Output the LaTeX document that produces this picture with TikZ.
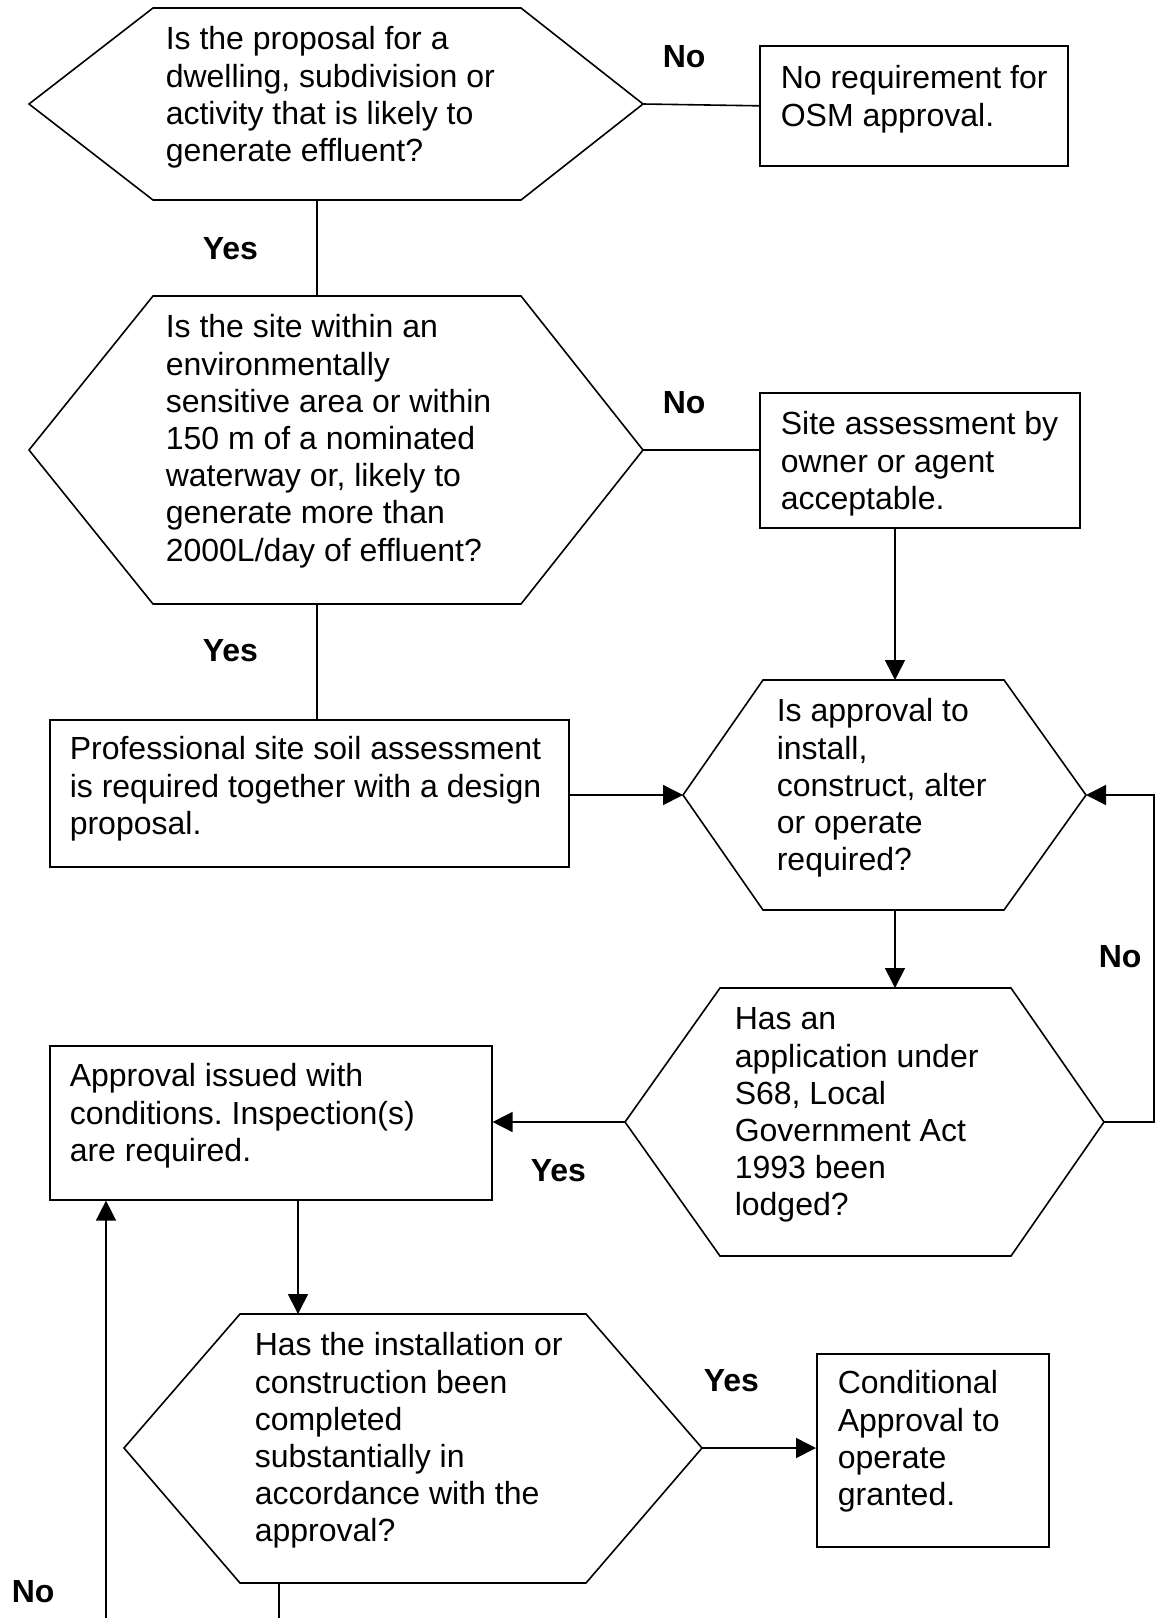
\documentclass[tikz,border=0pt]{standalone}
\usepackage{fontspec}
\setmainfont{Liberation Sans}
\usetikzlibrary{arrows.meta}

\begin{document}
\frenchspacing
\begin{tikzpicture}[x=1pt,y=-1pt,line width=1.6pt,
    every node/.style={font=\fontsize{32}{37.2}\selectfont},
    box/.style={draw, inner sep=0pt, anchor=north west},
    txt/.style={anchor=north west, inner sep=0pt, align=left},
    lbl/.style={anchor=base west, inner sep=0pt, font=\fontsize{32}{37.2}\selectfont\bfseries},
    arr/.style={-{Triangle[length=20pt,width=20pt]}}]

    \useasboundingbox (0,0) rectangle (1161,1618);

    % first question
    \draw (29,104) coordinate (q1w) -- (153,8) -- (521,8) -- (643,104) coordinate (q1e) -- (521,200) -- (153,200) -- cycle;
    \coordinate (q1s) at (317,200);
    \node [txt] (q1t) at (165,23) {\strut Is the proposal for a\\dwelling, subdivision or\\activity that is likely to\\generate effluent?};

    \node [box, minimum width=308pt, minimum height=120pt] (osm) at (759,45) {};
    \node [txt] (osmt) at (780,62) {\strut No requirement for\\OSM approval.};
    \node [lbl] (no1) at (662,67) {No};
    \draw (q1e) -- (osm.west);

    % second question
    \draw (29,450) coordinate (q2w) -- (153,296) -- (521,296) -- (643,450) coordinate (q2e) -- (521,604) -- (153,604) -- cycle;
    \coordinate (q2n) at (317,296);
    \coordinate (q2s) at (317,604);
    \node [txt] (q2t) at (165,311) {\strut Is the site within an\\environmentally\\sensitive area or within\\150 m of a nominated\\waterway or, likely to\\generate more than\\2000L/day of effluent?};
    \node [lbl] (yes1) at (202,259) {Yes};
    \draw (q1s) -- (q2n);

    \node [box, minimum width=320pt, minimum height=135pt] (site) at (759,392) {};
    \node [txt] (sitet) at (780,408) {\strut Site assessment by\\owner or agent\\acceptable.};
    \node [lbl] (no2) at (662,413) {No};
    \draw (q2e) -- (q2e -| site.west);

    \node [box, minimum width=519pt, minimum height=147pt] (prof) at (49,719) {};
    \node [txt] (proft) at (69,733) {\strut Professional site soil assessment\\is required together with a design\\proposal.};
    \node [lbl] (yes2) at (202,661) {Yes};
    \draw (q2s) -- (q2s |- prof.north);

    % approval required
    \draw (683,795) coordinate (q3w) -- (763,680) -- (1004,680) -- (1086,795) coordinate (q3e) -- (1004,910) -- (763,910) -- cycle;
    \coordinate (q3n) at (895,680);
    \coordinate (q3s) at (895,910);
    \node [txt] (q3t) at (776,695) {\strut Is approval to\\install,\\construct, alter\\or operate\\required?};
    \draw [arr] (site.south -| q3n) -- (q3n);
    \draw [arr] (q3w -| prof.east) -- (q3w);

    % application lodged
    \draw (625,1122) coordinate (q4w) -- (720,988) -- (1011,988) -- (1104,1122) coordinate (q4e) -- (1011,1256) -- (720,1256) -- cycle;
    \coordinate (q4n) at (895,988);
    \node [txt] (q4t) at (734,1003) {\strut Has an\\application under\\S68, Local\\Government Act\\1993 been\\lodged?};
    \draw [arr] (q3s) -- (q4n);
    \draw [arr] (q4e) -- ++(50,0) |- (q3e);
    \node [lbl] (no3) at (1098,967) {No};

    \node [box, minimum width=442pt, minimum height=154pt] (appr) at (49,1045) {};
    \node [txt] (apprt) at (69,1060) {\strut Approval issued with\\conditions. Inspection(s)\\are required.};
    \draw [arr] (q4w) -- (q4w -| appr.east);
    \node [lbl] (yes3) at (530,1181) {Yes};

    % completed
    \draw (124,1448) coordinate (q5w) -- (240,1314) -- (586,1314) -- (702,1448) coordinate (q5e) -- (586,1583) -- (240,1583) -- cycle;
    \coordinate (q5n) at (298,1314);
    \coordinate (q5s) at (279,1583);
    \node [txt] (q5t) at (254,1329) {\strut Has the installation or\\construction been\\completed\\substantially in\\accordance with the\\approval?};
    \draw [arr] (appr.south -| q5n) -- (q5n);

    \node [box, minimum width=232pt, minimum height=193pt] (cond) at (816,1353) {};
    \node [txt] (condt) at (837,1367) {\strut Conditional\\Approval to\\operate\\granted.};
    \draw [arr] (q5e) -- (q5e -| cond.west);
    \node [lbl] (yes4) at (703,1391) {Yes};

    \coordinate (q5end) at (279,1618);
    \draw (q5s) -- (q5end);
    \coordinate (redo) at (106,1618);
    \draw [arr] (redo) -- (redo |- appr.south);
    \node [lbl] (no4) at (11,1602) {No};

\end{tikzpicture}
\end{document}
